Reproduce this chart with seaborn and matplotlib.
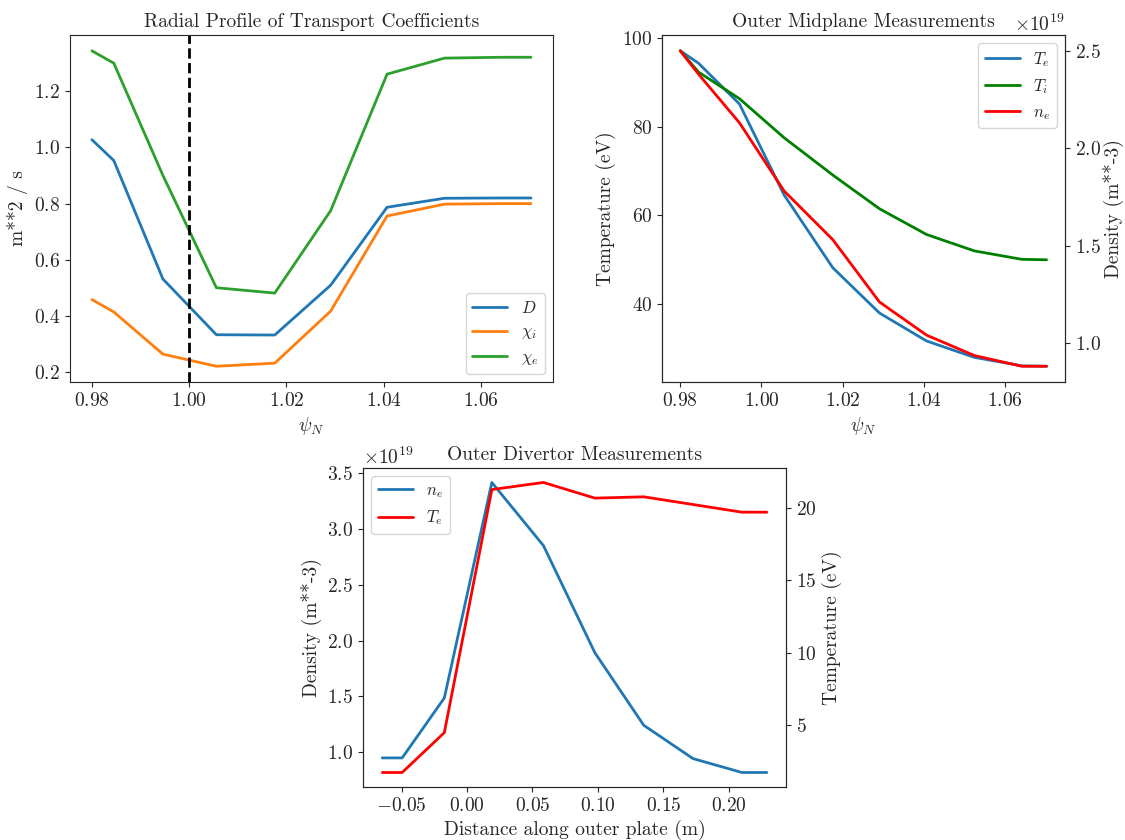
import matplotlib
matplotlib.use("Agg")
import matplotlib.pyplot as plt
from matplotlib.ticker import MultipleLocator
import seaborn as sns

# ---- Transport coefficients vs normalized flux ----
psi_n = [0.980, 0.9845, 0.9946, 1.0056, 1.0176, 1.0291, 1.0407, 1.0525, 1.0642, 1.0703]
coef_D = [1.027, 0.953, 0.532, 0.334, 0.333, 0.510, 0.787, 0.819, 0.820, 0.820]
coef_chi_i = [0.459, 0.415, 0.265, 0.222, 0.233, 0.418, 0.756, 0.798, 0.800, 0.800]
coef_chi_e = [1.343, 1.299, 0.900, 0.501, 0.482, 0.775, 1.260, 1.317, 1.320, 1.320]

# ---- Outer midplane profiles ----
omp_Te = [97.1, 94.3, 85.1, 64.6, 48.2, 38.0, 31.7, 28.0, 26.1, 26.0]
omp_Ti = [97.1, 92.3, 86.3, 77.5, 69.1, 61.5, 55.7, 52.0, 50.1, 50.0]
omp_ne = [2.50e19, 2.38e19, 2.13e19, 1.78e19, 1.53e19, 1.21e19, 1.04e19, 0.935e19, 0.88e19, 0.88e19]

# ---- Outer divertor plate profiles ----
plate_dist = [-0.0647, -0.0495, -0.0173, 0.0190, 0.0584, 0.0977, 0.1350, 0.1726, 0.2100, 0.2290]
plate_ne = [0.946e19, 0.946e19, 1.484e19, 3.419e19, 2.852e19, 1.890e19, 1.239e19, 0.940e19, 0.815e19, 0.815e19]
plate_Te = [1.74, 1.74, 4.49, 21.26, 21.75, 20.67, 20.76, 20.23, 19.70, 19.70]

sns.set_style("ticks")
plt.rcParams["font.family"] = ["cmr10", "DejaVu Serif"]
plt.rcParams["mathtext.fontset"] = "cm"
plt.rcParams["axes.formatter.use_mathtext"] = True
plt.rcParams["font.size"] = 14
plt.rcParams["axes.titlesize"] = 14
plt.rcParams["axes.labelsize"] = 14
plt.rcParams["xtick.labelsize"] = 14
plt.rcParams["ytick.labelsize"] = 14
plt.rcParams["legend.fontsize"] = 12
plt.rcParams["axes.unicode_minus"] = True

fig = plt.figure(figsize=(11.25, 8.4), dpi=100)
lw = 2

# Transport coefficients
ax1 = fig.add_axes([0.0622, 0.5452, 0.4293, 0.4131])
sns.lineplot(x=psi_n, y=coef_D, ax=ax1, color="tab:blue", lw=lw, label="$D$")
sns.lineplot(x=psi_n, y=coef_chi_i, ax=ax1, color="tab:orange", lw=lw, label=r"$\chi_i$")
sns.lineplot(x=psi_n, y=coef_chi_e, ax=ax1, color="tab:green", lw=lw, label=r"$\chi_e$")
ax1.axvline(1.0, color="black", ls="--", lw=lw)
ax1.set_title("Radial Profile of Transport Coefficients")
ax1.set_xlabel(r"$\psi_N$")
ax1.set_ylabel("m**2 / s")
ax1.yaxis.set_major_locator(MultipleLocator(0.2))
ax1.xaxis.set_major_locator(MultipleLocator(0.02))
ax1.legend(loc="lower right", handlelength=2.1)

# Outer midplane
ax2 = fig.add_axes([0.5884, 0.5452, 0.3582, 0.4131])
ax2b = ax2.twinx()
sns.lineplot(x=psi_n, y=omp_Te, ax=ax2, color="tab:blue", lw=lw, label="$T_e$")
sns.lineplot(x=psi_n, y=omp_Ti, ax=ax2, color="green", lw=lw, label="$T_i$")
sns.lineplot(x=psi_n, y=omp_ne, ax=ax2b, color="red", lw=lw, label="$n_e$")
ax2.set_title("Outer Midplane Measurements")
ax2.set_xlabel(r"$\psi_N$")
ax2.set_ylabel("Temperature (eV)")
ax2b.set_ylabel("Density (m**-3)", labelpad=1.5)
ax2.xaxis.set_major_locator(MultipleLocator(0.02))
ax2.yaxis.set_major_locator(MultipleLocator(20))
ax2b.yaxis.set_major_locator(MultipleLocator(0.5e19))
h1, l1 = ax2.get_legend_handles_labels()
h2, l2 = ax2b.get_legend_handles_labels()
ax2.get_legend().remove()
ax2b.get_legend().remove()
ax2b.legend(h1 + h2, l1 + l2, loc="upper right", handlelength=2.1)

# Outer divertor
ax3 = fig.add_axes([0.3227, 0.0631, 0.376, 0.3798])
ax3b = ax3.twinx()
sns.lineplot(x=plate_dist, y=plate_ne, ax=ax3, color="tab:blue", lw=lw, label="$n_e$")
sns.lineplot(x=plate_dist, y=plate_Te, ax=ax3b, color="red", lw=lw, label="$T_e$")
ax3.set_title("Outer Divertor Measurements")
ax3.set_xlabel("Distance along outer plate (m)")
ax3.set_ylabel("Density (m**-3)")
ax3b.set_ylabel("Temperature (eV)")
ax3.xaxis.set_major_locator(MultipleLocator(0.05))
ax3.yaxis.set_major_locator(MultipleLocator(0.5e19))
ax3b.yaxis.set_major_locator(MultipleLocator(5))
h1, l1 = ax3.get_legend_handles_labels()
h2, l2 = ax3b.get_legend_handles_labels()
ax3.get_legend().remove()
ax3b.get_legend().remove()
ax3b.legend(h1 + h2, l1 + l2, loc="upper left", handlelength=2.1)

fig.savefig("out.png", dpi=100)
